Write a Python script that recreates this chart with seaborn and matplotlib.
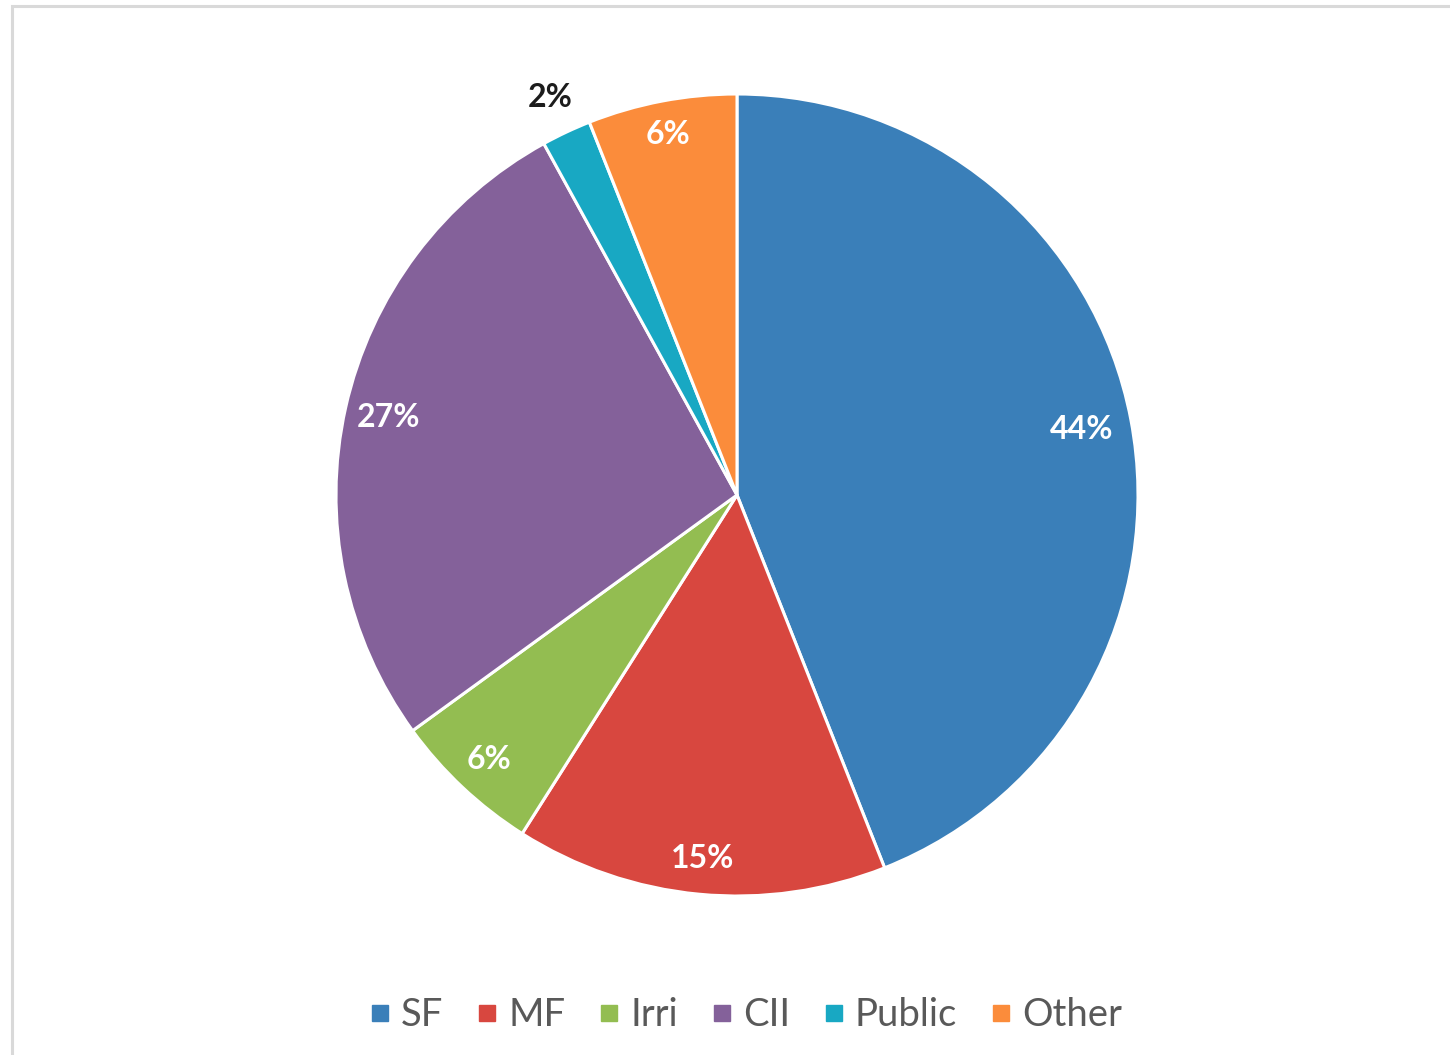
import matplotlib
matplotlib.use("Agg")
import matplotlib.pyplot as plt
import seaborn as sns
from matplotlib.patches import Rectangle
from matplotlib.lines import Line2D
import numpy as np

categories = ["SF", "MF", "Irri", "CII", "Public", "Other"]
shares = [44, 15, 6, 27, 2, 6]
colors = ["#3a7fb9", "#d8473f", "#93bd51", "#84619a", "#18a8c3", "#fb8c3b"]

sns.set_theme(style="white")
plt.rcParams["font.family"] = ["Lato", "DejaVu Sans"]

W, H = 1450, 1055
fig = plt.figure(figsize=(W / 100, H / 100), dpi=100)
fig.patch.set_facecolor("white")

# light frame around the chart area
fig.add_artist(Rectangle((12 / W, -0.05), 1.2, 1 - 6 / H + 0.05,
                         transform=fig.transFigure, fill=False,
                         edgecolor="#d9d9d9", linewidth=2.2))

cx, cy, r = 737, 495, 401
ax = fig.add_axes([(cx - r) / W, (H - cy - r) / H, 2 * r / W, 2 * r / H])

wedges, _ = ax.pie(shares, colors=colors, startangle=90, counterclock=False,
                   radius=1.0, wedgeprops=dict(edgecolor="white", linewidth=2.2))
ax.set_xlim(-1, 1)
ax.set_ylim(-1, 1)
ax.axis("off")

dists = [0.875, 0.91, 0.905, 0.89, 1.095, 0.915]
for w, val, d in zip(wedges, shares, dists):
    ang = np.deg2rad((w.theta1 + w.theta2) / 2)
    x, y = d * np.cos(ang), d * np.sin(ang)
    outside = d > 1
    ax.text(x, y, f"{val}%", ha="center", va="center", fontsize=23,
            fontweight="bold", color="#1c1c1c" if outside else "white",
            clip_on=False)

handles = [Line2D([], [], marker="s", linestyle="none", markersize=12,
                  markerfacecolor=c, markeredgecolor=c) for c in colors]
leg = fig.legend(handles, categories, loc="center", ncol=6,
                 bbox_to_anchor=(745 / W, 1 - 1015 / H), frameon=False,
                 fontsize=27.5, handlelength=0.6, handletextpad=0.25,
                 columnspacing=0.85)
for t in leg.get_texts():
    t.set_color("#595959")

fig.savefig("out.png", dpi=100, facecolor="white")
